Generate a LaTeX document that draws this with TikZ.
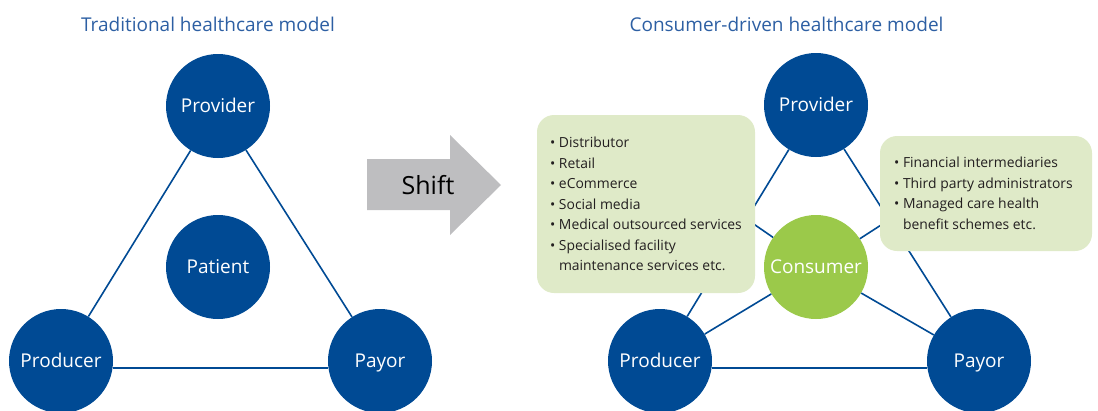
\documentclass[tikz,border=0pt]{standalone}
\usepackage{fontspec}
\setmainfont{Open Sans}
\usepackage{tikz}
\usetikzlibrary{positioning}
\tikzstyle{canvas} = [x = 1pt, y = -1pt]
\definecolor{partyColor}{RGB}{0,74,148}
\definecolor{consumerColor}{RGB}{155,201,74}
\definecolor{boxColor}{RGB}{223,234,200}
\definecolor{titleColor}{RGB}{45,95,163}
\definecolor{shiftColor}{RGB}{190,190,192}
\definecolor{listColor}{RGB}{35,31,32}
\tikzstyle{partyStyle} = [circle, fill=partyColor, text=white, minimum size = 104pt, inner sep = 0pt, text height = 13.5pt, text depth = 0pt, font=\fontsize{19}{22}\selectfont]
\tikzstyle{consumerStyle} = [partyStyle, fill=consumerColor]
\tikzstyle{linkStyle} = [color=partyColor, line width = 1.6pt]
\tikzstyle{titleStyle} = [text=titleColor, font=\fontsize{19}{22}\selectfont]
\tikzstyle{shiftStyle} = [fill=shiftColor]
\tikzstyle{boxStyle} = [fill=boxColor, rounded corners = 17pt, inner sep = 0pt]
\tikzstyle{listStyle} = [text=listColor, align=left, inner sep = 0pt, anchor=north west, font=\fontsize{13.9}{20.5}\selectfont]
\newcommand{\bulletItem}[1]{\makebox[9pt][l]{•}#1}
\newcommand{\bulletCont}[1]{\hspace*{9pt}#1}
\begin{document}
\begin{tikzpicture}[canvas]
  \useasboundingbox (0,0) rectangle (1098,410);

  % traditional model
  \node [titleStyle] (tradTitle) at (208,24.5) {Traditional healthcare model};
  \node [partyStyle] (provL) at (218,106) {Provider};
  \node [partyStyle] (patient) at (218,267) {Patient};
  \node [partyStyle] (prodL) at (61,361) {Producer};
  \node [partyStyle] (payorL) at (380,361) {Payor};
  \draw [linkStyle] (provL) -- (prodL);
  \draw [linkStyle] (provL) -- (payorL);
  \draw [linkStyle] (prodL.-8) -- (payorL.188);

  % shift arrow
  \fill [shiftStyle] (367,159) -- (450,159) -- (450,135) -- (501,185) -- (450,235) -- (450,210) -- (367,210) -- cycle;
  \node [font=\fontsize{25}{28}\selectfont] (shift) at (428,185) {Shift};

  % consumer-driven model
  \node [titleStyle] (consTitle) at (786.5,24) {Consumer-driven healthcare model};
  \node [partyStyle] (provR) at (816,105) {Provider};
  \node [consumerStyle] (consumer) at (816,267) {Consumer};
  \node [partyStyle] (prodR) at (660,361) {Producer};
  \node [partyStyle] (payorR) at (979,361) {Payor};
  \coordinate (distHook) at (700,187);
  \coordinate (finHook) at (940,187);
  \draw [linkStyle] (provR) -- (prodR);
  \draw [linkStyle] (provR) -- (payorR);
  \draw [linkStyle] (prodR.-8) -- (payorR.188);
  \draw [linkStyle] (consumer) -- (prodR);
  \draw [linkStyle] (consumer) -- (payorR);
  \draw [linkStyle] (consumer) -- (distHook);
  \draw [linkStyle] (consumer) -- (finHook);

  \node [boxStyle, minimum width = 218pt, minimum height = 178pt] (distBox) at (646,204) {};
  \node [listStyle, below right = 22pt and 13pt of distBox.north west] (distList) {%
    \bulletItem{Distributor}\\
    \bulletItem{Retail}\\
    \bulletItem{eCommerce}\\
    \bulletItem{Social media}\\
    \bulletItem{Medical outsourced services}\\
    \bulletItem{Specialised facility}\\
    \bulletCont{maintenance services etc.}};
  \node [boxStyle, minimum width = 212pt, minimum height = 115pt] (finBox) at (986,193.5) {};
  \node [listStyle, below right = 21pt and 14pt of finBox.north west] (finList) {%
    \bulletItem{Financial intermediaries}\\
    \bulletItem{Third party administrators}\\
    \bulletItem{Managed care health}\\
    \bulletCont{benefit schemes etc.}};
\end{tikzpicture}
\end{document}
